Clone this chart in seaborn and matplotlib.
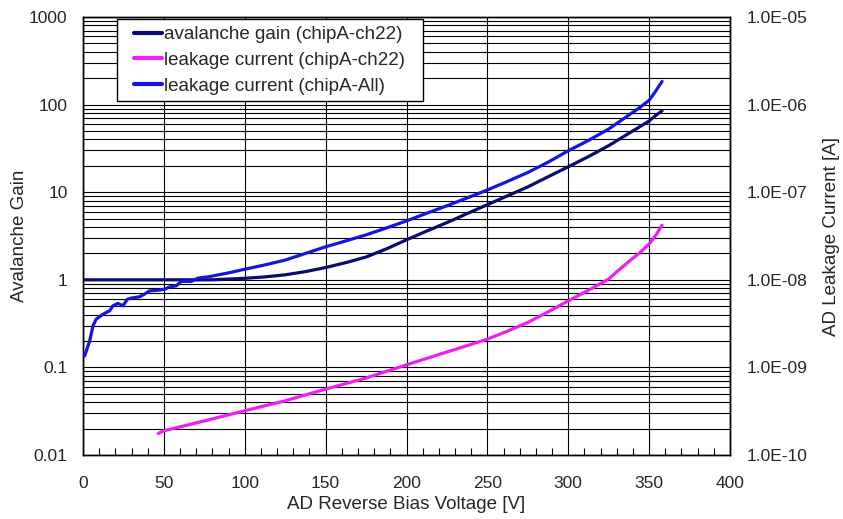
import numpy as np
import pandas as pd
import seaborn as sns
import matplotlib
matplotlib.use("Agg")
import matplotlib.pyplot as plt
from matplotlib.ticker import LogLocator, MultipleLocator, FixedLocator, FixedFormatter, NullFormatter
from matplotlib.lines import Line2D
from matplotlib.patches import Rectangle

# Avalanche gain, chipA-ch22
gain_voltage = [1, 20, 40, 60, 80, 100, 112.5, 125, 137.5, 150, 162.5, 175, 187.5, 200, 212.5,
                225, 237.5, 250, 262.5, 275, 287.5, 300, 312.5, 325, 337.5, 350, 354, 358]
gain_values = [1.0, 1.0, 1.0, 1.0, 1.0, 1.04, 1.08, 1.14, 1.24, 1.38, 1.57, 1.82, 2.25, 2.86, 3.6,
               4.5, 5.7, 7.2, 9.1, 11.5, 15.0, 19.5, 25.5, 34, 47, 65, 75, 85]

# Leakage current, chipA-ch22 [A]
leak_ch22_voltage = [46.5, 50, 75, 100, 125, 150, 175, 200, 225, 250, 262.5, 275, 287.5, 300,
                     312.5, 325, 331, 337.5, 344, 350, 354, 358]
leak_ch22_current = [1.76e-10, 1.89e-10, 2.45e-10, 3.2e-10, 4.16e-10, 5.65e-10, 7.57e-10,
                     1.07e-9, 1.5e-9, 2.1e-9, 2.6e-9, 3.26e-9, 4.3e-9, 5.75e-9, 7.6e-9, 1.02e-8,
                     1.28e-8, 1.62e-8, 2.02e-8, 2.56e-8, 3.2e-8, 4.2e-8]

# Leakage current, chipA-All [A]
leak_all_voltage = [1, 4.1, 6.2, 8.2, 12.4, 16.5, 18.5, 21.6, 24.7, 27.4, 29.8, 35, 38, 41.2,
                    46.4, 50.5, 53.6, 57.7, 60.8, 67, 71, 77.3, 90, 100, 112.5, 125, 137.5, 150,
                    162.5, 175, 187.5, 200, 212.5, 225, 237.5, 250, 262.5, 275, 287.5, 300,
                    312.5, 325, 337.5, 344, 350, 354, 358]
leak_all_current = [1.35e-9, 2.0e-9, 3.0e-9, 3.56e-9, 4.05e-9, 4.43e-9, 5.05e-9, 5.37e-9, 5.05e-9,
                    6.0e-9, 6.18e-9, 6.4e-9, 6.87e-9, 7.48e-9, 7.6e-9, 7.8e-9, 8.3e-9, 8.54e-9,
                    9.6e-9, 9.6e-9, 1.045e-8, 1.08e-8, 1.2e-8, 1.32e-8, 1.48e-8, 1.68e-8, 2.0e-8,
                    2.38e-8, 2.78e-8, 3.26e-8, 3.9e-8, 4.7e-8, 5.75e-8, 7.0e-8, 8.6e-8, 1.06e-7,
                    1.33e-7, 1.68e-7, 2.2e-7, 2.97e-7, 3.9e-7, 5.26e-7, 7.6e-7, 9.2e-7, 1.12e-6,
                    1.42e-6, 1.84e-6]

left_ticks = [0.01, 0.1, 1, 10, 100, 1000]
left_labels = ["0.01", "0.1", "1", "10", "100", "1000"]
right_ticks = [1e-10, 1e-9, 1e-8, 1e-7, 1e-6, 1e-5]
right_labels = ["1.0E-10", "1.0E-09", "1.0E-08", "1.0E-07", "1.0E-06", "1.0E-05"]
x_ticks = [0, 50, 100, 150, 200, 250, 300, 350, 400]

series_names = ["avalanche gain (chipA-ch22)", "leakage current (chipA-ch22)", "leakage current (chipA-All)"]
series_colors = ["#0c0c6e", "#f01ef0", "#1414e6"]

sns.set_style("white")
plt.rcParams["font.family"] = ["Liberation Sans", "DejaVu Sans"]
text_color = "#262626"

fig = plt.figure(figsize=(8.43, 5.19), dpi=100)
ax = fig.add_axes([83 / 843, 1 - 455 / 519, 647 / 843, 438 / 519])
ax2 = ax.twinx()

gain_df = pd.DataFrame({"V": gain_voltage, "val": gain_values})
ch22_df = pd.DataFrame({"V": leak_ch22_voltage, "val": leak_ch22_current})
all_df = pd.DataFrame({"V": leak_all_voltage, "val": leak_all_current})

lw = 2.3
sns.lineplot(data=gain_df, x="V", y="val", ax=ax, color=series_colors[0], lw=lw,
             estimator=None, sort=False, zorder=3)
sns.lineplot(data=ch22_df, x="V", y="val", ax=ax2, color=series_colors[1], lw=lw,
             estimator=None, sort=False, zorder=3)
sns.lineplot(data=all_df, x="V", y="val", ax=ax2, color=series_colors[2], lw=lw,
             estimator=None, sort=False, zorder=3)

for a, lo, hi in ((ax, 0.01, 1000), (ax2, 1e-10, 1e-5)):
    a.set_yscale("log")
    a.set_ylim(lo, hi)
ax.set_xlim(0, 400)

# Left axis ticks and grid
ax.yaxis.set_major_locator(FixedLocator(left_ticks))
ax.yaxis.set_major_formatter(FixedFormatter(left_labels))
ax.yaxis.set_minor_locator(LogLocator(base=10, subs=np.arange(2, 10)))
ax.yaxis.set_minor_formatter(NullFormatter())
ax.xaxis.set_major_locator(FixedLocator(x_ticks))
ax.xaxis.set_minor_locator(MultipleLocator(10))
ax.grid(True, which="both", axis="y", color="black", lw=0.8)
ax.grid(True, which="major", axis="x", color="black", lw=0.8)
ax.tick_params(axis="y", which="both", length=0, pad=11, labelsize=12.5, labelcolor=text_color)
ax.tick_params(axis="x", which="major", length=0, pad=15, labelsize=12.5, labelcolor=text_color)
ax.tick_params(axis="x", which="minor", direction="in", length=5, width=0.8, color="black", bottom=True)

# Right axis ticks
ax2.yaxis.set_major_locator(FixedLocator(right_ticks))
ax2.yaxis.set_major_formatter(FixedFormatter(right_labels))
ax2.yaxis.set_minor_locator(FixedLocator([]))
ax2.tick_params(axis="y", which="both", length=0, pad=12, labelsize=12.5, labelcolor=text_color)
ax2.grid(False)

ax.set_xlabel("AD Reverse Bias Voltage [V]", fontsize=13.5, color=text_color, labelpad=4)
ax.set_ylabel("Avalanche Gain", fontsize=13.5, color=text_color, va="center")
ax.yaxis.set_label_coords(-63 / 647, 0.5)
ax2.set_ylabel("AD Leakage Current [A]", fontsize=13.5, color=text_color, va="center")
ax2.yaxis.set_label_coords(1 + 101 / 647, 0.5)

for a in (ax, ax2):
    for s in a.spines.values():
        s.set_color("black")
        s.set_linewidth(1.0)

# Legend frame drawn as its own box, entries placed inside it
box = Rectangle((34 / 647, (455 - 101) / 438), 306 / 647, 82 / 438, transform=ax2.transAxes,
                facecolor="white", edgecolor="black", lw=1.0, zorder=9)
ax2.add_patch(box)
handles = [Line2D([0], [0], color=c, lw=3) for c in series_colors]
leg = ax2.legend(handles, series_names, loc="upper left", bbox_to_anchor=(51 / 647, (455 - 26) / 438),
                 borderaxespad=0, fontsize=13.5, frameon=False, handlelength=1.5,
                 handletextpad=0.1, labelspacing=0.46, borderpad=0)
for t in leg.get_texts():
    t.set_color(text_color)
leg.set_zorder(10)

fig.savefig("out.png", dpi=100)
